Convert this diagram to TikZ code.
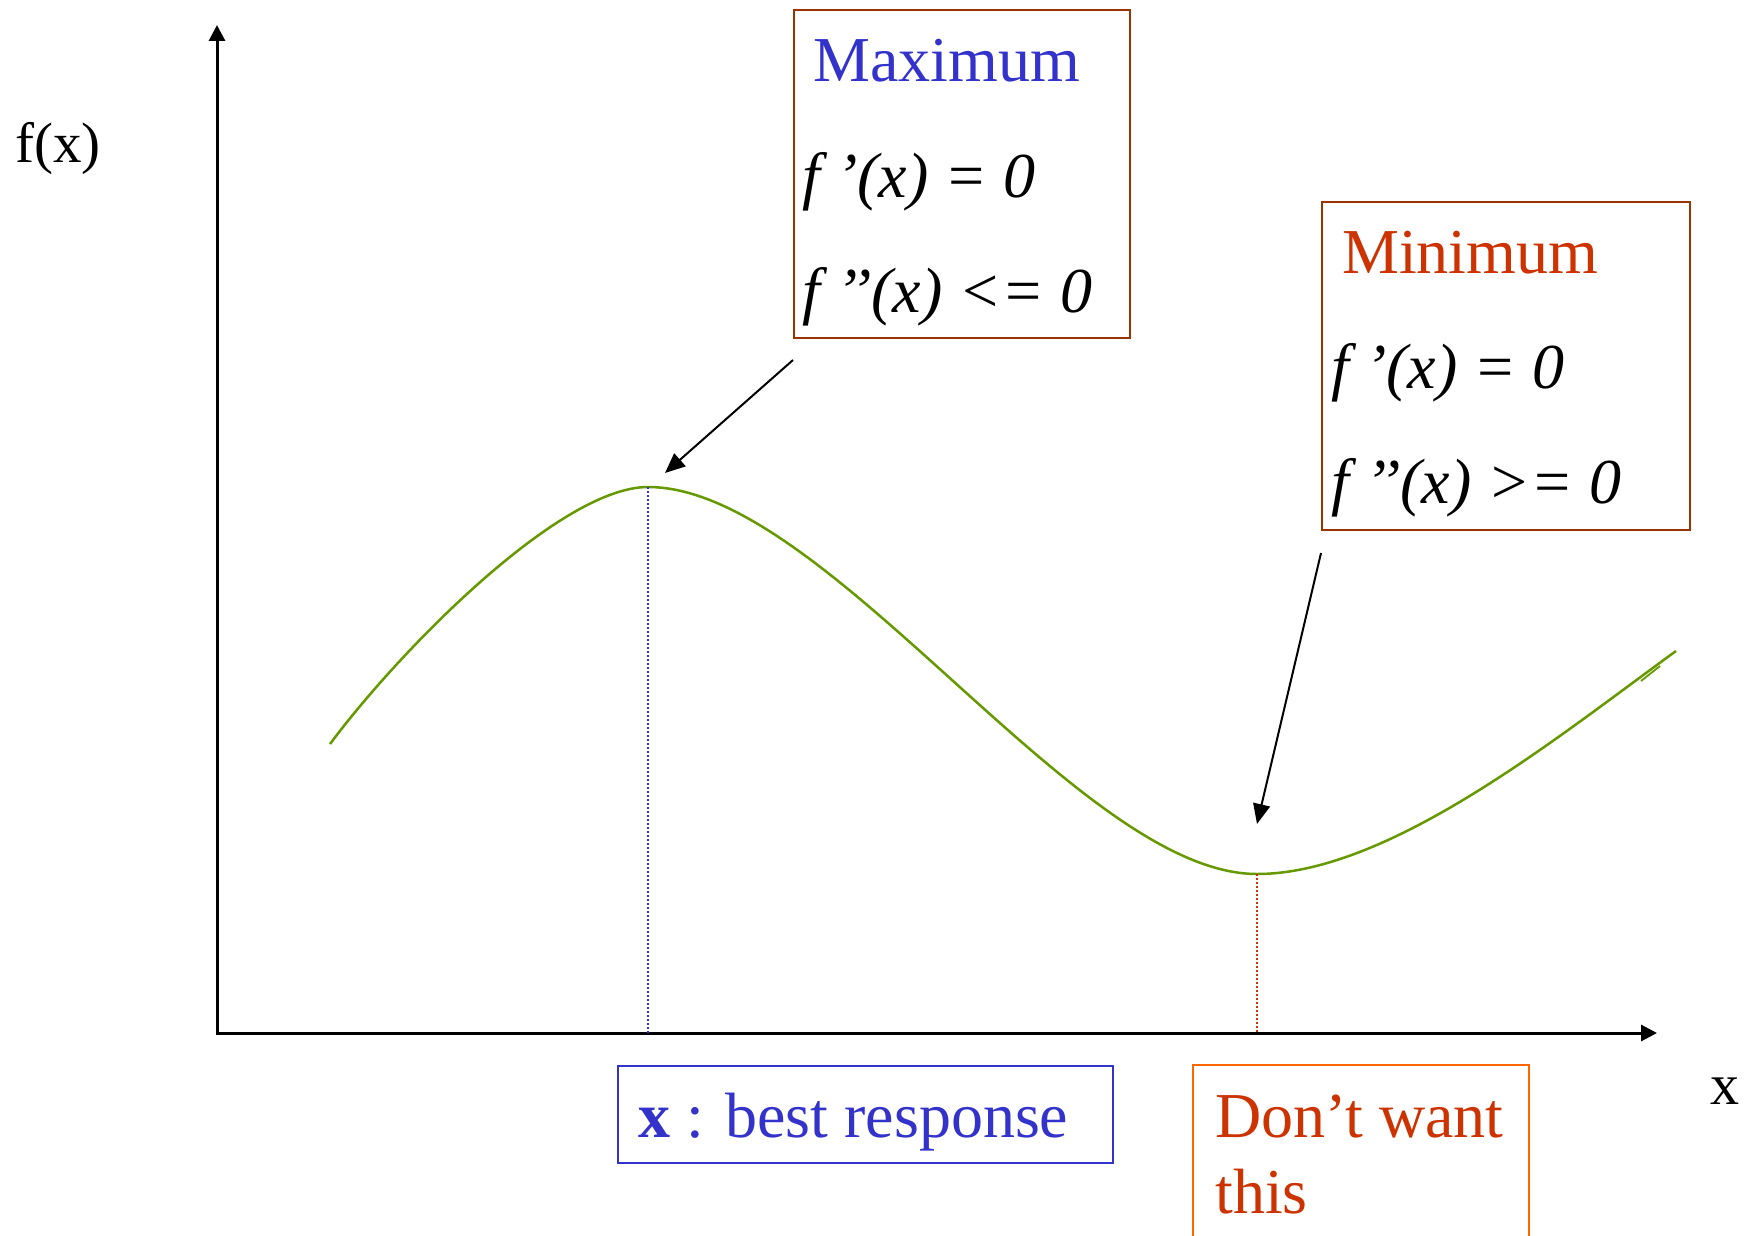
\documentclass[tikz,border=0pt]{standalone}
\usepackage{fontspec}
\setmainfont{Liberation Serif}
\usetikzlibrary{arrows.meta}
\definecolor{boxbrown}{HTML}{993300}
\definecolor{maxblue}{HTML}{3333CC}
\definecolor{minred}{HTML}{CC3300}
\definecolor{orangeedge}{HTML}{FF6600}
\definecolor{curvegreen}{HTML}{669900}
\begin{document}
\begin{tikzpicture}[x=1pt,y=-1pt,
  txt/.style={anchor=base west, inner sep=0pt, font=\fontsize{64}{70}\selectfont},
  axislbl/.style={anchor=base west, inner sep=0pt, font=\fontsize{57}{62}\selectfont},
  framebox/.style={anchor=north west, inner sep=0pt, line width=2pt, draw=boxbrown},
  axisline/.style={line width=3pt, {Triangle[length=16pt,width=16pt]}-{Triangle[length=16pt,width=16pt]}},
  pointer/.style={line width=2pt, -{Triangle[length=20pt,width=17pt]}},
  curveline/.style={line width=2.5pt, curvegreen},
  dropline/.style={line width=1.3pt, dash pattern=on 2pt off 2pt}]
\useasboundingbox (0,0) rectangle (1747,1236);
\fill[white] (0,0) rectangle (1747,1236);

% axes
\coordinate (O) at (217,1033);
\coordinate (ytip) at (217,25);
\coordinate (xtip) at (1657,1033);
\draw[axisline] (ytip) -- (O) -- (xtip);
\node[axislbl] (fxlbl) at (15,162) {f(x)};
\node[axislbl, font=\fontsize{58}{62}\selectfont] (xlbl) at (1710,1104) {x};

% curve
\coordinate (cstart) at (330,744);
\coordinate (cmax) at (648,487);
\coordinate (cmin) at (1257,874);
\coordinate (cend) at (1676,651);
\draw[curveline] (cstart) .. controls (400,650) and (560,487) .. (cmax)
  .. controls (828,487) and (1077,874) .. (cmin)
  .. controls (1390,874) and (1560,735) .. (cend);
\coordinate (tickA) at (1641,681);
\coordinate (tickB) at (1660,666);
\draw[curveline, line width=1.8pt] (tickA) -- (tickB);

% drop lines
\draw[dropline, maxblue] (cmax) -- (cmax |- O);
\draw[dropline, minred] (cmin) -- (cmin |- O);

% maximum box
\node[framebox, minimum width=336pt, minimum height=328pt] (maxbox) at (793,9) {};
\node[txt, text=maxblue] (maxtitle) at (813,82) {Maximum};
\node[txt] (maxd1) at (802,197) {\itshape f ’(x) = 0};
\node[txt] (maxd2) at (802,312) {\itshape f ’’(x) <= 0};

% minimum box
\node[framebox, minimum width=368pt, minimum height=328pt] (minbox) at (1321,201) {};
\node[txt, text=minred] (mintitle) at (1342,273) {Minimum};
\node[txt] (mind1) at (1331,388) {\itshape f ’(x) = 0};
\node[txt] (mind2) at (1331,503) {\itshape f ’’(x) >= 0};

% pointers
\coordinate (maxfrom) at (793,360);
\coordinate (maxto) at (665,473);
\coordinate (minfrom) at (1321,553);
\coordinate (minto) at (1257,824);
\draw[pointer] (maxfrom) -- (maxto);
\draw[pointer] (minfrom) -- (minto);

% bottom boxes
\node[anchor=north west, inner sep=0pt, line width=2pt, draw=maxblue, minimum width=495pt, minimum height=97pt] (bestbox) at (617,1065) {};
\node[txt, text=maxblue] (besttxt) at (638,1137) {\textbf{x} : best response};
\coordinate (dwA) at (1193,1240);
\coordinate (dwB) at (1193,1065);
\coordinate (dwC) at (1529,1065);
\coordinate (dwD) at (1529,1240);
\draw[line width=2pt, orangeedge] (dwA) -- (dwB) -- (dwC) -- (dwD);
\node[txt, text=minred] (dw1) at (1215,1137) {Don’t want};
\node[txt, text=minred] (dw2) at (1215,1213) {this};
\end{tikzpicture}
\end{document}
